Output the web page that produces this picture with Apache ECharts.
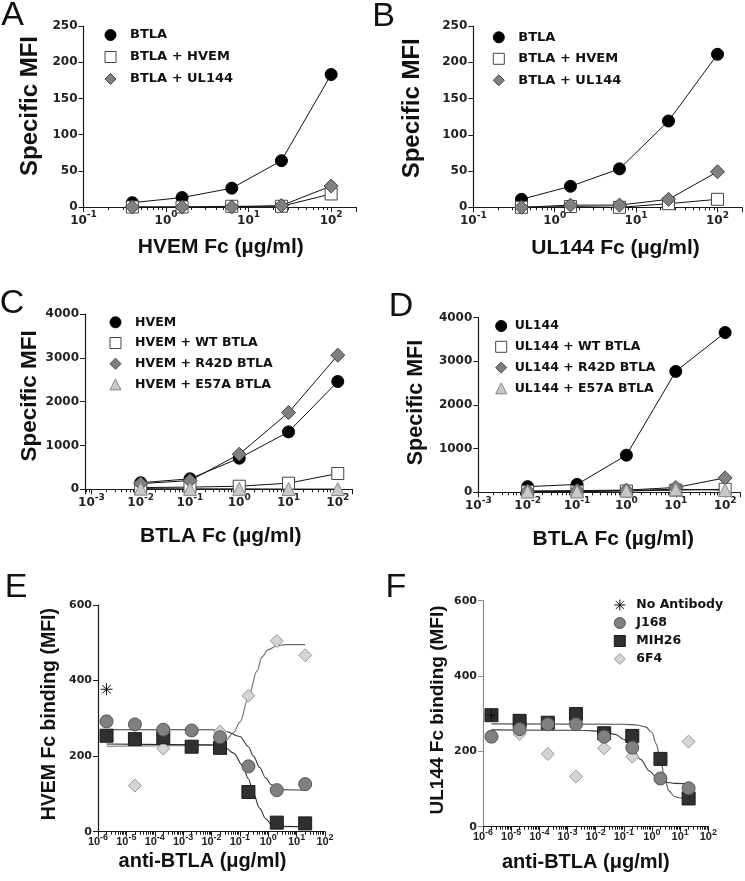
<!DOCTYPE html>
<html><head><meta charset="utf-8">
<script src="https://cdn.jsdelivr.net/npm/echarts@6/dist/echarts.min.js"></script>
<style>html,body{margin:0;padding:0;background:#fff}#c{width:745px;height:881px}</style>
</head><body><div id="c"></div>
<script>
// ---------- DATA ----------
const doseAB = [0.390625, 1.5625, 6.25, 25, 100];
const aBTLA  = [6, 13, 26, 64, 183];
const aHVEM  = [0, 0, 1, 1, 18];
const aUL144 = [0, 0, 0, 2, 29];
const bBTLA  = [11, 29, 53, 119, 211];
const bHVEM  = [0, 1, 0, 5, 11];
const bUL144 = [0, 3, 3, 11, 49];

const doseCD = [0.01, 0.1, 1, 10, 100];
const cHVEM  = [150, 240, 710, 1310, 2460];
const cWT    = [40, 50, 70, 140, 360];
const cR42D  = [130, 200, 800, 1750, 3060];
const cE57A  = [15, 10, 10, 5, 5];
const dUL144 = [130, 180, 850, 2770, 3660];
const dWT    = [15, 15, 30, 50, 70];
const dR42D  = [30, 40, 50, 110, 330];
const dE57A  = [20, 20, 40, 70, 50];

const doseEF = [2e-6, 2e-5, 2e-4, 2e-3, 2e-2, 0.2, 2, 20];
const eJ168  = [292, 284, 270, 268, 250, 173, 110, 126];
const eMIH26 = [254, 245, 250, 225, 222, 105, 24, 22];
const e6F4   = [null, 122, 220, null, 265, 360, 505, 467];
const eNoAb  = 377;
const fJ168  = [239, 259, 272, 272, 239, 210, 128, 102];
const fMIH26 = [296, 281, 276, 299, 248, 241, 180, 75];
const f6F4   = [null, 246, 193, 133, 208, 186, null, 226];
const fNoAb  = 296;

// fitted curves
const eJ168CurveX  = [2e-6, 1e-2, 3e-2, 0.1, 0.2, 0.3, 0.5, 0.8, 1.25, 2, 4, 20];
const eJ168CurveY  = [270, 270, 266, 252, 225, 200, 170, 143, 125, 115, 111, 110];
const eMIH26CurveX = [2e-6, 1e-2, 3e-2, 0.06, 0.125, 0.2, 0.3, 0.5, 0.8, 1.25, 2.5, 20];
const eMIH26CurveY = [232, 230, 222, 208, 175, 140, 100, 62, 35, 20, 14, 13];
const e6F4CurveX   = [2e-6, 1e-2, 3e-2, 0.06, 0.1, 0.2, 0.4, 0.6, 1, 2, 4, 20];
const e6F4CurveY   = [226, 228, 240, 262, 290, 355, 425, 462, 482, 492, 495, 495];
const fJ168CurveX  = [2e-6, 3e-3, 0.02, 0.05, 0.1, 0.2, 0.4, 0.8, 1.6, 3.2, 6.3, 20];
const fJ168CurveY  = [257, 256, 253, 245, 232, 210, 178, 148, 128, 118, 115, 114];
const fMIH26CurveX = [2e-6, 0.1, 0.3, 0.6, 1, 1.4, 2, 2.8, 4, 6.3, 10, 20];
const fMIH26CurveY = [273, 272, 270, 265, 250, 220, 180, 130, 95, 80, 76, 75];

// ---------- HELPERS ----------
const TF = 'DejaVu Sans';
const HF = 'Liberation Sans';
const AX = '#1a1a1a';

function pairs(xs, ys) { const out = []; xs.forEach((x, i) => { if (ys[i] != null) out.push([x, ys[i]]); }); return out; }

function logFmt(v) {
  const e = Math.log10(v); const r = Math.round(e);
  if (Math.abs(e - r) > 1e-6) return '';
  return '{b|10}{s|' + r + '}';
}

function xAx(gi, min, max, fs, ss, fam, margin) {
  return {
    type: 'log', logBase: 10, gridIndex: gi, min: min, max: max,
    axisLine: { show: true, onZero: false, lineStyle: { color: AX, width: 1.2 } },
    axisTick: { show: true, length: 5, lineStyle: { color: AX, width: 1 } },
    minorTick: { show: true, splitNumber: 9, length: 3, lineStyle: { color: AX, width: 1 } },
    splitLine: { show: false }, minorSplitLine: { show: false },
    axisLabel: {
      formatter: logFmt, margin: margin, showMinLabel: true, showMaxLabel: true, hideOverlap: false,
      rich: {
        b: { fontFamily: fam, fontWeight: 'bold', fontSize: fs, lineHeight: fs + 4, verticalAlign: 'bottom', color: '#222' },
        s: { fontFamily: fam, fontWeight: 'bold', fontSize: ss, lineHeight: fs + 4, verticalAlign: 'top', color: '#222' }
      }
    }
  };
}
function yAx(gi, max, interval, fs, col) {
  return {
    type: 'value', gridIndex: gi, min: 0, max: max, interval: interval,
    axisLine: { show: true, lineStyle: { color: col || AX, width: 1.2 } },
    axisTick: { show: true, length: 5, lineStyle: { color: col || AX, width: 1 } },
    splitLine: { show: false },
    axisLabel: { fontFamily: TF, fontWeight: 'bold', fontSize: fs, color: '#222', margin: 6, formatter: v => String(v) }
  };
}
function lineS(name, gi, xs, ys, sym, size, fill, border) {
  return {
    type: 'line', name: name, xAxisIndex: gi, yAxisIndex: gi, data: pairs(xs, ys),
    symbol: sym, symbolSize: size, showSymbol: true, showAllSymbol: true, clip: false,
    lineStyle: { color: '#111', width: 1 },
    itemStyle: { color: fill, borderColor: border, borderWidth: 1 },
    emphasis: { disabled: true }, animation: false
  };
}
function dotS(name, gi, xs, ys, sym, size, fill, border, z) {
  return {
    type: 'scatter', name: name, xAxisIndex: gi, yAxisIndex: gi, data: pairs(xs, ys),
    symbol: sym, symbolSize: size, clip: false, z: z || 3,
    itemStyle: { color: fill, borderColor: border, borderWidth: 1, opacity: 1 },
    emphasis: { disabled: true }, animation: false
  };
}
function curveS(name, gi, xs, ys, col) {
  return {
    type: 'line', name: name, xAxisIndex: gi, yAxisIndex: gi, data: pairs(xs, ys),
    symbol: 'none', smooth: 0.35, smoothMonotone: 'x', clip: false, z: 2,
    lineStyle: { color: col, width: 1.1 }, emphasis: { disabled: true }, animation: false
  };
}
const AST = 'path://M0,5L10,5M5,0L5,10M1.46,1.46L8.54,8.54M8.54,1.46L1.46,8.54';

function legend(left, top, gap, fs, pad, items) {
  return {
    orient: 'vertical', left: left, top: top, itemGap: gap, itemWidth: 11, itemHeight: 11,
    selectedMode: false, padding: 0,
    textStyle: { fontFamily: TF, fontWeight: 'bold', fontSize: fs, color: '#111', lineHeight: 13, padding: [0, 0, 0, pad] },
    data: items.map(it => ({ name: it[0], icon: it[1], itemStyle: { color: it[2], borderColor: it[3], borderWidth: 1 } }))
  };
}

const SQ = ['#fff', '#444'], DI = ['#808080', '#444'], TR = ['#c8c8c8', '#888'], CI = ['#000', '#000'];
const J = ['#808080', '#555'], M = ['#303030', '#1a1a1a'], S6 = ['#d4d4d4', '#9a9a9a'];

// ---------- GRIDS ----------
const grids = [
  { left: 83.5, top: 26, width: 272.5, height: 181 },
  { left: 473.3, top: 26, width: 270, height: 181.3 },
  { left: 85, top: 314, width: 267.6, height: 175.3 },
  { left: 478.3, top: 317.7, width: 261.7, height: 174.6 },
  { left: 98, top: 605, width: 227, height: 226.7 },
  { left: 483, top: 600.7, width: 225.3, height: 226 }
];

const xAxes = [
  xAx(0, 0.1, 200, 12, 9, TF, 3.5), xAx(1, 0.1, 200, 12, 9, TF, 3.5),
  xAx(2, 0.00074, 200, 12, 9, TF, 3.5), xAx(3, 0.001, 200, 12, 9, TF, 3.5),
  xAx(4, 1e-6, 100, 11, 9, HF, 1), xAx(5, 1e-6, 100, 11, 9, HF, 1)
];
const yAxes = [
  yAx(0, 250, 50, 12), yAx(1, 250, 50, 12),
  yAx(2, 4000, 1000, 12), yAx(3, 4000, 1000, 12),
  yAx(4, 600, 200, 11), yAx(5, 600, 200, 11, '#8a8a8a')
];

const series = [
  lineS('BTLA', 0, doseAB, aBTLA, 'circle', 12, CI[0], CI[1]),
  lineS('BTLA + HVEM', 0, doseAB, aHVEM, 'rect', 12, SQ[0], SQ[1]),
  lineS('BTLA + UL144', 0, doseAB, aUL144, 'diamond', 14, DI[0], DI[1]),
  lineS('BTLA', 1, doseAB, bBTLA, 'circle', 12, CI[0], CI[1]),
  lineS('BTLA + HVEM', 1, doseAB, bHVEM, 'rect', 12, SQ[0], SQ[1]),
  lineS('BTLA + UL144', 1, doseAB, bUL144, 'diamond', 14, DI[0], DI[1]),
  lineS('HVEM', 2, doseCD, cHVEM, 'circle', 12, CI[0], CI[1]),
  lineS('HVEM + WT BTLA', 2, doseCD, cWT, 'rect', 12, SQ[0], SQ[1]),
  lineS('HVEM + R42D BTLA', 2, doseCD, cR42D, 'diamond', 14, DI[0], DI[1]),
  lineS('HVEM + E57A BTLA', 2, doseCD, cE57A, 'triangle', 13, TR[0], TR[1]),
  lineS('UL144', 3, doseCD, dUL144, 'circle', 12, CI[0], CI[1]),
  lineS('UL144 + WT BTLA', 3, doseCD, dWT, 'rect', 12, SQ[0], SQ[1]),
  lineS('UL144 + R42D BTLA', 3, doseCD, dR42D, 'diamond', 14, DI[0], DI[1]),
  lineS('UL144 + E57A BTLA', 3, doseCD, dE57A, 'triangle', 13, TR[0], TR[1]),
  // E
  curveS('E J168 fit', 4, eJ168CurveX, eJ168CurveY, '#3a3a3a'),
  curveS('E MIH26 fit', 4, eMIH26CurveX, eMIH26CurveY, '#2a2a2a'),
  curveS('E 6F4 fit', 4, e6F4CurveX, e6F4CurveY, '#6a6a6a'),
  dotS('E 6F4', 4, doseEF, e6F4, 'diamond', 13, S6[0], S6[1], 3),
  dotS('E MIH26', 4, doseEF, eMIH26, 'rect', 13, M[0], M[1], 4),
  dotS('E J168', 4, doseEF, eJ168, 'circle', 13, J[0], J[1], 5),
  dotS('E No Antibody', 4, [doseEF[0]], [eNoAb], AST, 12, 'transparent', '#111', 6),
  // F
  curveS('F J168 fit', 5, fJ168CurveX, fJ168CurveY, '#3a3a3a'),
  curveS('F MIH26 fit', 5, fMIH26CurveX, fMIH26CurveY, '#555'),
  dotS('6F4', 5, doseEF, f6F4, 'diamond', 13, S6[0], S6[1], 3),
  dotS('MIH26', 5, doseEF, fMIH26, 'rect', 13, M[0], M[1], 4),
  dotS('J168', 5, doseEF, fJ168, 'circle', 13, J[0], J[1], 5),
  dotS('No Antibody', 5, [doseEF[0]], [fNoAb], AST, 12, 'transparent', '#111', 6)
];

const legends = [
  legend(104.5, 28.5, 9, 13, 9, [['BTLA', 'circle', CI[0], CI[1]], ['BTLA + HVEM', 'rect', SQ[0], SQ[1]], ['BTLA + UL144', 'diamond', DI[0], DI[1]]]),
  legend(492.8, 30.8, 8.5, 13, 9, [['BTLA', 'circle', CI[0], CI[1]], ['BTLA + HVEM', 'rect', SQ[0], SQ[1]], ['BTLA + UL144', 'diamond', DI[0], DI[1]]]),
  legend(109.5, 315.8, 7.7, 12.5, 9, [['HVEM', 'circle', CI[0], CI[1]], ['HVEM + WT BTLA', 'rect', SQ[0], SQ[1]], ['HVEM + R42D BTLA', 'diamond', DI[0], DI[1]], ['HVEM + E57A BTLA', 'triangle', TR[0], TR[1]]]),
  legend(495.2, 319.5, 7.8, 12.5, 3, [['UL144', 'circle', CI[0], CI[1]], ['UL144 + WT BTLA', 'rect', SQ[0], SQ[1]], ['UL144 + R42D BTLA', 'diamond', DI[0], DI[1]], ['UL144 + E57A BTLA', 'triangle', TR[0], TR[1]]]),
  legend(613.8, 598.5, 5, 12.5, 6, [['No Antibody', AST, 'transparent', '#111'], ['J168', 'circle', J[0], J[1]], ['MIH26', 'rect', M[0], M[1]], ['6F4', 'diamond', S6[0], S6[1]]])
];

function txt(t, x, y, font, rot) {
  return { type: 'text', x: x, y: y, rotation: rot || 0, silent: true,
    style: { text: t, font: font, fill: '#111', align: 'center', verticalAlign: 'middle', textAlign: 'center', textVerticalAlign: 'middle' } };
}
const R = Math.PI / 2;
const graphic = [
  txt('A', 12.5, 16, '34px "Liberation Sans"'),
  txt('B', 383.5, 16.7, '34px "Liberation Sans"'),
  txt('C', 12, 304, '34px "Liberation Sans"'),
  txt('D', 401, 306.7, '34px "Liberation Sans"'),
  txt('E', 16, 588, '34px "Liberation Sans"'),
  txt('F', 396, 588, '34px "Liberation Sans"'),
  txt('Specific MFI', 30, 106, 'bold 24px "Liberation Sans"', R),
  txt('Specific MFI', 412.5, 108.3, 'bold 24px "Liberation Sans"', R),
  txt('Specific MFI', 29.5, 395.8, 'bold 22.5px "Liberation Sans"', R),
  txt('Specific MFI', 416.3, 402.5, 'bold 21.5px "Liberation Sans"', R),
  txt('HVEM Fc binding (MFI)', 49.5, 714.2, 'bold 19.5px "Liberation Sans"', R),
  txt('UL144 Fc binding (MFI)', 437.5, 710, 'bold 19px "Liberation Sans"', R),
  txt('HVEM Fc (µg/ml)', 220.8, 247.2, 'bold 21px "Liberation Sans"'),
  txt('UL144 Fc (µg/ml)', 615.5, 248, 'bold 21px "Liberation Sans"'),
  txt('BTLA Fc (µg/ml)', 220.8, 536, 'bold 21px "Liberation Sans"'),
  txt('BTLA Fc (µg/ml)', 613.3, 539.5, 'bold 21px "Liberation Sans"'),
  txt('anti-BTLA (μg/ml)', 202.5, 861.3, 'bold 20px "Liberation Sans"'),
  txt('anti-BTLA (μg/ml)', 585.8, 862, 'bold 20px "Liberation Sans"')
];

const chart = echarts.init(document.getElementById('c'), null, { renderer: 'canvas' });
chart.setOption({
  backgroundColor: '#fff', animation: false,
  grid: grids, xAxis: xAxes, yAxis: yAxes, series: series, legend: legends, graphic: graphic
});
</script>
</body></html>
